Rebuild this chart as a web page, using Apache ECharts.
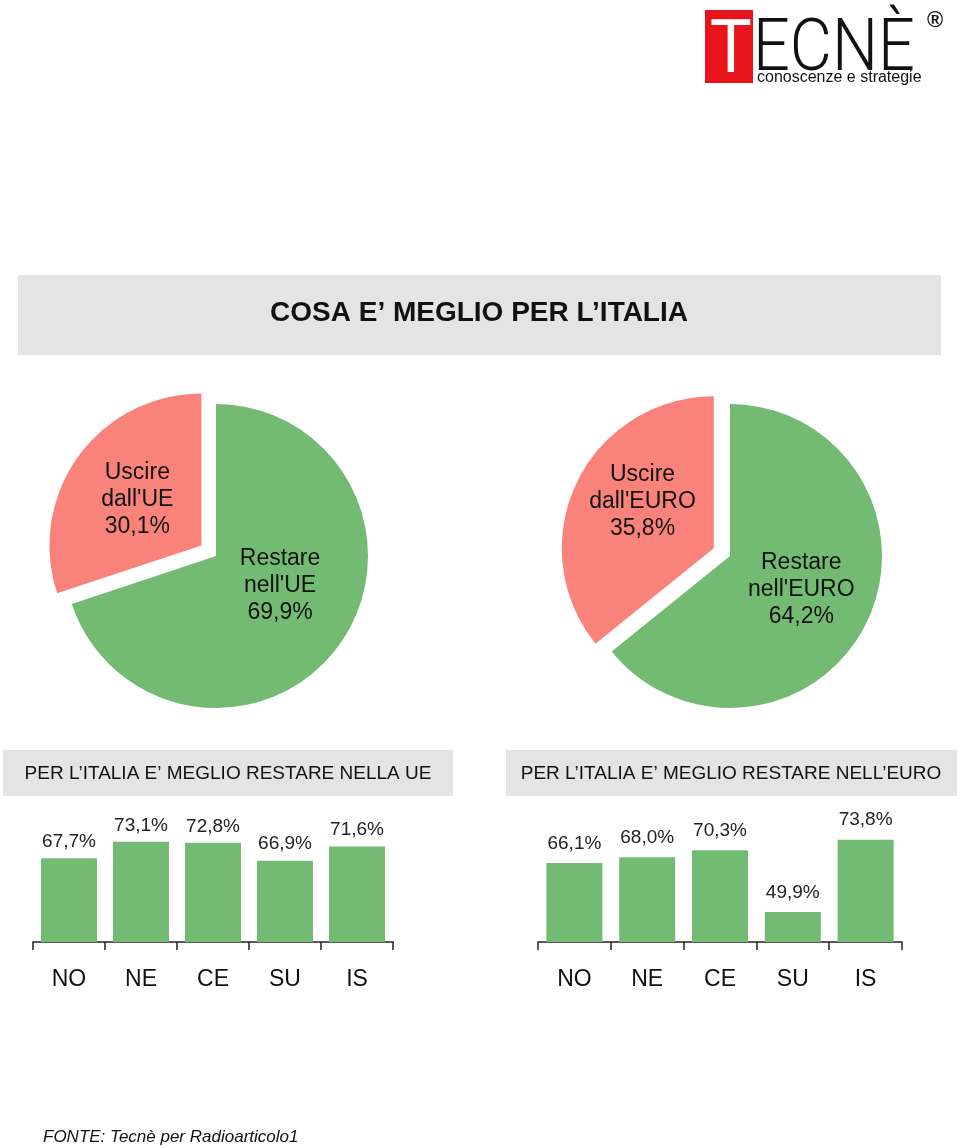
<!DOCTYPE html>
<html>
<head>
<meta charset="utf-8">
<script src="https://cdn.jsdelivr.net/npm/echarts@6/dist/echarts.min.js"></script>
<style>
html,body{margin:0;padding:0;background:#fff;}
#c{width:960px;height:1148px;}
</style>
</head>
<body>
<div id="c"></div>
<script>
// ---- data ----
const pieUE = [
  { name: "Restare\nnell'UE", value: 69.9 },
  { name: "Uscire\ndall'UE", value: 30.1 }
];
const pieEURO = [
  { name: "Restare\nnell'EURO", value: 64.2 },
  { name: "Uscire\ndall'EURO", value: 35.8 }
];
const regions = ["NO", "NE", "CE", "SU", "IS"];
const barUE = [67.7, 73.1, 72.8, 66.9, 71.6];
const barEURO = [66.1, 68.0, 70.3, 49.9, 73.8];
const titleText = "COSA E\u2019 MEGLIO PER L\u2019ITALIA";
const subUE = "PER L\u2019ITALIA E\u2019 MEGLIO RESTARE NELLA UE";
const subEURO = "PER L\u2019ITALIA E\u2019 MEGLIO RESTARE NELL\u2019EURO";
const sourceText = "FONTE: Tecn\u00e8 per Radioarticolo1";

const GREEN = "#73BB72";
const RED = "#F9837A";
const FONT = "Liberation Sans, Arial, sans-serif";
const pct = v => v.toFixed(1).replace(".", ",") + "%";

const chart = echarts.init(document.getElementById("c"), null, { renderer: "canvas" });

const txt = { fontFamily: FONT, fontSize: 23, lineHeight: 27, color: "#111" };

// spacer: visual nudge of the label block (px of extra blank line below)
function pieSeries(data, center, spacers) {
  return {
    type: "pie",
    center: center,
    radius: 152,
    startAngle: 90,
    clockwise: true,
    selectedMode: "single",
    selectedOffset: 18,
    animation: false,
    silent: true,
    avoidLabelOverlap: false,
    data: data.map((d, i) => ({
      name: d.name,
      value: d.value,
      selected: i === 1,
      itemStyle: { color: i === 0 ? GREEN : RED },
      label: {
        formatter: p => {
          const lines = (p.name + "\n" + pct(p.value)).split("\n").map(l => "{t|" + l + "}");
          if (spacers[i] > 0) lines.push("{s| }");
          return lines.join("\n");
        },
        rich: { t: txt, s: { fontSize: 4, lineHeight: spacers[i] } }
      }
    })),
    label: {
      position: "inside",
      align: "center",
      ...txt
    },
    labelLine: { show: false },
    emphasis: { disabled: true }
  };
}

function barSeries(data, idx, dist) {
  return {
    type: "bar",
    xAxisIndex: idx,
    yAxisIndex: idx,
    data: data,
    barWidth: 56,
    animation: false,
    silent: true,
    itemStyle: { color: GREEN },
    label: {
      show: true,
      position: "top",
      distance: dist,
      formatter: p => pct(p.value),
      fontFamily: FONT,
      fontSize: 19,
      color: "#222"
    }
  };
}

function xAx(idx) {
  return {
    type: "category",
    gridIndex: idx,
    data: regions,
    boundaryGap: true,
    axisLine: { lineStyle: { color: "#222", width: 1.5 } },
    axisTick: { show: true, length: 8, lineStyle: { color: "#222", width: 1.5 } },
    axisLabel: { fontFamily: FONT, fontSize: 23, color: "#111", margin: 26 }
  };
}
function yAx(idx) {
  return {
    type: "value",
    gridIndex: idx,
    min: 40,
    max: 80,
    show: false,
    splitLine: { show: false }
  };
}

const option = {
  backgroundColor: "#fff",
  animation: false,
  grid: [
    { left: 33, width: 360, top: 821, height: 121 },
    { left: 538, width: 364, top: 821, height: 121 }
  ],
  xAxis: [xAx(0), xAx(1)],
  yAxis: [yAx(0), yAx(1)],
  series: [
    pieSeries(pieUE, [216, 556], [34, 0]),
    pieSeries(pieEURO, [730, 556], [0, 24]),
    barSeries(barUE, 0, 7),
    barSeries(barEURO, 1, 10)
  ],
  graphic: [
    // logo
    { type: "rect", shape: { x: 705, y: 10, width: 48, height: 73 }, style: { fill: "#E8141B" } },
    { type: "text", x: 710, y: 51, scaleX: 0.9, style: { text: "T", fill: "#fff", font: "76px Liberation Sans, sans-serif", verticalAlign: "middle", align: "left" } },
    { type: "text", x: 753, y: 52, scaleX: 0.9, style: { text: "ECN\u00c8", fill: "#111", font: "300 72px Roboto, Liberation Sans, sans-serif", verticalAlign: "middle", align: "left" } },
    { type: "text", x: 935, y: 21, style: { text: "\u00ae", fill: "#111", font: "bold 22px Liberation Sans, sans-serif", verticalAlign: "middle", align: "center" } },
    { type: "text", x: 757, y: 78, style: { text: "conoscenze e strategie", fill: "#111", font: "16px Liberation Sans, sans-serif", verticalAlign: "middle", align: "left" } },
    // title band
    { type: "rect", shape: { x: 18, y: 275, width: 923, height: 80 }, style: { fill: "#E4E4E4" }, z: -1 },
    { type: "text", x: 479, y: 313, style: { text: titleText, fill: "#111", font: "bold 28px Liberation Sans, sans-serif", verticalAlign: "middle", align: "center" } },
    // sub bands
    { type: "rect", shape: { x: 3, y: 750, width: 450, height: 46 }, style: { fill: "#E4E4E4" }, z: -1 },
    { type: "text", x: 228, y: 774, style: { text: subUE, fill: "#111", font: "19px Liberation Sans, sans-serif", verticalAlign: "middle", align: "center" } },
    { type: "rect", shape: { x: 506, y: 750, width: 451, height: 46 }, style: { fill: "#E4E4E4" }, z: -1 },
    { type: "text", x: 731, y: 774, style: { text: subEURO, fill: "#111", font: "19px Liberation Sans, sans-serif", verticalAlign: "middle", align: "center" } },
    // source
    { type: "text", x: 43, y: 1137, style: { text: sourceText, fill: "#111", font: "italic 17px Liberation Sans, sans-serif", verticalAlign: "middle", align: "left" } }
  ]
};
chart.setOption(option);
</script>
</body>
</html>
